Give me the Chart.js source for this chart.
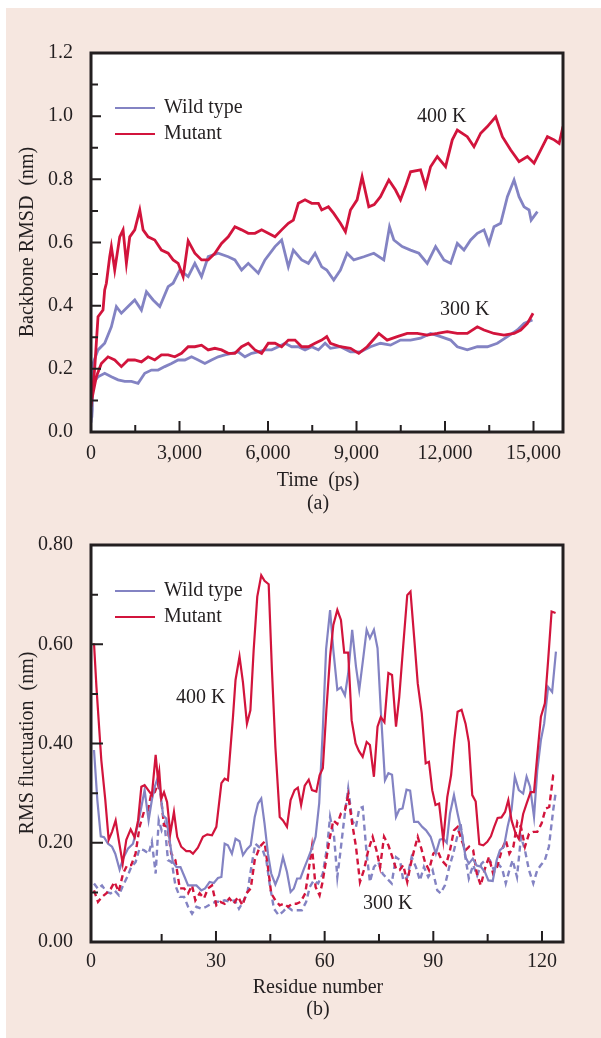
<!DOCTYPE html>
<html lang="en">
<head>
  <meta charset="UTF-8">
  <title>Backbone RMSD and RMS fluctuation</title>
  <script src="https://cdn.jsdelivr.net/npm/chart.js"></script>
  <style>
    body {
      margin: 0;
      background: #fff;
      width: 601px;
      height: 1038px;
      position: relative;
      overflow: hidden;
    }
    #panel {
      position: absolute;
      left: 6px; top: 8px; right: 0; bottom: 0;
      background: #f6e7e0;
    }
    canvas { position: absolute; left: 0; }
    #rmsd { top: 0; }
    #rmsf { top: 520px; }
  </style>
</head>
<body>
<div id="panel"></div>
<canvas id="rmsd" width="601" height="520" style="width:601px;height:520px"></canvas>
<canvas id="rmsf" width="601" height="518" style="width:601px;height:518px"></canvas>

<script>
  // (a) backbone RMSD vs time
  const wt400Time = [0, 40, 68, 238, 464, 690, 860, 1030, 1256, 1483, 1709, 1879, 2105, 2332, 2615, 2784, 3011, 3294, 3520, 3747, 3973, 4312, 4652, 4878, 5105, 5331, 5671, 5897, 6237, 6463, 6689, 6859, 7142, 7369, 7595, 7821, 7991, 8228, 8455, 8681, 8908, 9247, 9587, 9926, 10119, 10266, 10549, 10832, 11115, 11398, 11681, 11964, 12190, 12417, 12643, 12870, 13096, 13322, 13491, 13661, 13888, 14115, 14341, 14510, 14680, 14850, 14920, 15133];
  const wt400Rmsd = [0.03, 0.07, 0.217, 0.26, 0.281, 0.333, 0.397, 0.376, 0.397, 0.418, 0.386, 0.444, 0.418, 0.397, 0.46, 0.471, 0.513, 0.492, 0.534, 0.492, 0.555, 0.566, 0.555, 0.545, 0.513, 0.534, 0.503, 0.545, 0.587, 0.608, 0.523, 0.576, 0.545, 0.534, 0.566, 0.523, 0.513, 0.481, 0.513, 0.566, 0.545, 0.555, 0.566, 0.545, 0.65, 0.608, 0.587, 0.576, 0.566, 0.534, 0.587, 0.545, 0.534, 0.597, 0.576, 0.608, 0.629, 0.64, 0.597, 0.65, 0.661, 0.745, 0.798, 0.745, 0.713, 0.703, 0.671, 0.698];

  const mu400Time = [0, 124, 238, 407, 464, 521, 634, 690, 804, 974, 1087, 1200, 1313, 1483, 1653, 1766, 1936, 2162, 2388, 2615, 2784, 2954, 3124, 3294, 3520, 3747, 3973, 4199, 4425, 4652, 4878, 5105, 5331, 5558, 5784, 6010, 6237, 6463, 6689, 6859, 7029, 7255, 7482, 7708, 7821, 8048, 8228, 8455, 8625, 8795, 9020, 9190, 9417, 9600, 9813, 10096, 10323, 10492, 10660, 10832, 11171, 11341, 11511, 11738, 12020, 12247, 12417, 12756, 12983, 13209, 13436, 13718, 13945, 14228, 14510, 14793, 15020, 15246, 15473, 15700, 15870, 16000];
  const mu400Rmsd = [0.08, 0.2, 0.365, 0.386, 0.45, 0.471, 0.555, 0.587, 0.513, 0.618, 0.64, 0.534, 0.618, 0.64, 0.703, 0.64, 0.618, 0.608, 0.576, 0.566, 0.545, 0.534, 0.492, 0.605, 0.566, 0.545, 0.545, 0.566, 0.597, 0.618, 0.65, 0.64, 0.629, 0.629, 0.64, 0.629, 0.618, 0.64, 0.661, 0.671, 0.724, 0.735, 0.724, 0.724, 0.703, 0.713, 0.692, 0.661, 0.634, 0.703, 0.735, 0.808, 0.713, 0.72, 0.745, 0.798, 0.766, 0.735, 0.777, 0.824, 0.83, 0.777, 0.84, 0.872, 0.84, 0.925, 0.956, 0.935, 0.903, 0.946, 0.967, 0.998, 0.935, 0.893, 0.856, 0.872, 0.851, 0.893, 0.935, 0.925, 0.914, 0.967];

  const wt300Time = [0, 30, 68, 238, 464, 690, 917, 1143, 1370, 1596, 1822, 2049, 2275, 2501, 2728, 2954, 3181, 3407, 3633, 3860, 4086, 4312, 4539, 4765, 4991, 5218, 5444, 5671, 5897, 6124, 6350, 6576, 6803, 7029, 7255, 7482, 7708, 7935, 8115, 8455, 8795, 9134, 9474, 9813, 10153, 10492, 10832, 11171, 11511, 11851, 12190, 12417, 12756, 13096, 13436, 13775, 14115, 14454, 14680, 14964];
  const wt300Rmsd = [0.05, 0.12, 0.154, 0.175, 0.186, 0.175, 0.165, 0.16, 0.16, 0.154, 0.186, 0.196, 0.196, 0.207, 0.217, 0.228, 0.228, 0.238, 0.228, 0.217, 0.228, 0.238, 0.244, 0.249, 0.254, 0.238, 0.249, 0.254, 0.26, 0.26, 0.27, 0.281, 0.27, 0.27, 0.26, 0.27, 0.26, 0.281, 0.265, 0.27, 0.254, 0.254, 0.27, 0.281, 0.275, 0.291, 0.291, 0.297, 0.312, 0.302, 0.291, 0.27, 0.26, 0.27, 0.27, 0.281, 0.302, 0.323, 0.344, 0.355];

  const mu300Time = [0, 181, 351, 577, 804, 1030, 1256, 1483, 1709, 1936, 2162, 2388, 2615, 2841, 3067, 3294, 3520, 3747, 3973, 4199, 4425, 4652, 4878, 5105, 5331, 5558, 5784, 6010, 6237, 6463, 6689, 6916, 7142, 7369, 7595, 7821, 7991, 8115, 8455, 8795, 9077, 9361, 9756, 10040, 10380, 10719, 11059, 11398, 11738, 12077, 12417, 12756, 13096, 13322, 13661, 14000, 14341, 14567, 14793, 14985];
  const mu300Rmsd = [0.09, 0.175, 0.217, 0.238, 0.228, 0.207, 0.228, 0.228, 0.222, 0.238, 0.228, 0.244, 0.244, 0.238, 0.249, 0.27, 0.27, 0.275, 0.26, 0.265, 0.26, 0.249, 0.249, 0.27, 0.281, 0.26, 0.249, 0.281, 0.281, 0.27, 0.291, 0.291, 0.27, 0.27, 0.281, 0.291, 0.302, 0.281, 0.27, 0.265, 0.249, 0.27, 0.312, 0.291, 0.302, 0.312, 0.312, 0.307, 0.312, 0.318, 0.312, 0.312, 0.333, 0.323, 0.312, 0.307, 0.312, 0.323, 0.344, 0.376];

  // (b) RMS fluctuation per residue
  const mu400Res = [-3.67, -3.0, -1.65, -0.55, 0.38, 1.3, 2.3, 3.15, 4.25, 5.25, 6.45, 7.55, 8.5, 9.4, 10.3, 11.3, 12.3, 13.35, 14.0, 14.35, 14.9, 15.65, 16.5, 17.4, 18.4, 19.3, 20.4, 21.8, 22.8, 23.65, 25.0, 26.4, 27.6, 28.9, 30.1, 31.5, 32.4, 33.3, 34.7, 35.4, 36.5, 37.45, 38.55, 39.5, 40.4, 41.4, 42.5, 43.4, 44.55, 45.45, 46.4, 47.6, 48.5, 49.6, 50.6, 51.7, 52.6, 53.5, 54.5, 55.6, 56.5, 57.7, 58.6, 59.5, 60.5, 61.5, 62.4, 63.5, 64.5, 65.4, 66.5, 67.45, 68.55, 69.45, 70.5, 71.6, 72.5, 73.6, 74.6, 75.5, 76.5, 77.6, 78.6, 79.7, 80.6, 81.7, 82.8, 83.7, 84.7, 85.7, 86.8, 87.9, 88.8, 89.7, 90.6, 91.6, 92.75, 93.85, 94.9, 95.8, 96.7, 97.8, 98.9, 99.8, 100.75, 101.7, 102.7, 103.8, 104.9, 105.9, 106.8, 107.75, 108.8, 109.8, 110.7, 111.6, 112.7, 113.6, 114.8, 115.75, 116.85, 117.8, 118.7, 119.7, 120.8, 121.7, 122.65, 123.75];
  const mu400Rmsf = [0.602, 0.514, 0.366, 0.286, 0.206, 0.222, 0.245, 0.206, 0.158, 0.206, 0.227, 0.211, 0.245, 0.313, 0.316, 0.306, 0.296, 0.377, 0.326, 0.343, 0.289, 0.302, 0.282, 0.219, 0.262, 0.212, 0.192, 0.183, 0.183, 0.178, 0.19, 0.212, 0.217, 0.215, 0.232, 0.32, 0.329, 0.326, 0.454, 0.528, 0.575, 0.523, 0.44, 0.467, 0.588, 0.696, 0.739, 0.728, 0.721, 0.548, 0.393, 0.252, 0.245, 0.232, 0.286, 0.306, 0.311, 0.276, 0.315, 0.327, 0.306, 0.303, 0.336, 0.35, 0.47, 0.575, 0.639, 0.669, 0.649, 0.583, 0.583, 0.447, 0.4, 0.385, 0.373, 0.403, 0.397, 0.333, 0.434, 0.453, 0.443, 0.542, 0.538, 0.434, 0.494, 0.598, 0.699, 0.706, 0.615, 0.521, 0.461, 0.36, 0.363, 0.306, 0.276, 0.279, 0.205, 0.292, 0.336, 0.407, 0.464, 0.468, 0.44, 0.403, 0.296, 0.283, 0.197, 0.195, 0.202, 0.213, 0.232, 0.25, 0.251, 0.262, 0.286, 0.245, 0.219, 0.208, 0.258, 0.279, 0.302, 0.302, 0.376, 0.454, 0.481, 0.568, 0.666, 0.663];

  const wt400Res = [-3.67, -2.75, -1.8, -0.9, 0.2, 1.3, 2.2, 3.4, 4.35, 5.7, 7.1, 8.5, 9.4, 10.3, 11.4, 12.3, 13.1, 14.0, 14.7, 15.4, 16.3, 17.2, 18.1, 19.1, 20.2, 21.35, 22.3, 23.3, 24.6, 25.95, 27.0, 28.25, 29.4, 30.55, 31.5, 32.4, 33.3, 34.4, 35.4, 36.5, 37.45, 38.55, 39.6, 40.7, 41.6, 42.5, 43.4, 44.35, 45.25, 46.4, 47.4, 48.5, 49.6, 50.6, 51.5, 52.4, 53.3, 54.3, 55.4, 56.3, 57.5, 58.5, 59.5, 60.4, 61.5, 62.4, 63.5, 64.5, 65.6, 66.5, 67.6, 68.65, 69.55, 70.7, 71.6, 72.5, 73.6, 74.6, 75.5, 76.65, 77.6, 78.6, 79.7, 80.6, 81.5, 82.6, 83.6, 84.7, 85.8, 86.95, 88.0, 89.25, 90.7, 91.8, 92.8, 93.7, 94.6, 95.7, 96.7, 97.8, 98.9, 99.8, 100.9, 102.0, 103.1, 104.25, 105.2, 106.4, 107.5, 108.4, 109.5, 110.5, 111.6, 112.5, 113.6, 114.8, 115.75, 116.7, 117.8, 118.7, 119.7, 120.6, 121.7, 122.8, 123.85];
  const wt400Rmsf = [0.387, 0.286, 0.213, 0.211, 0.198, 0.192, 0.178, 0.146, 0.168, 0.188, 0.198, 0.239, 0.272, 0.306, 0.245, 0.286, 0.313, 0.333, 0.299, 0.255, 0.249, 0.205, 0.161, 0.151, 0.151, 0.131, 0.114, 0.114, 0.114, 0.104, 0.108, 0.121, 0.119, 0.129, 0.131, 0.198, 0.195, 0.178, 0.208, 0.203, 0.175, 0.187, 0.195, 0.252, 0.279, 0.289, 0.239, 0.178, 0.138, 0.116, 0.134, 0.171, 0.141, 0.101, 0.108, 0.128, 0.128, 0.148, 0.168, 0.185, 0.212, 0.28, 0.43, 0.59, 0.669, 0.588, 0.508, 0.513, 0.497, 0.541, 0.629, 0.555, 0.508, 0.575, 0.629, 0.612, 0.629, 0.592, 0.467, 0.326, 0.34, 0.337, 0.252, 0.267, 0.269, 0.307, 0.305, 0.242, 0.242, 0.232, 0.225, 0.212, 0.178, 0.206, 0.208, 0.2, 0.259, 0.296, 0.259, 0.222, 0.171, 0.158, 0.168, 0.154, 0.152, 0.141, 0.124, 0.123, 0.165, 0.185, 0.192, 0.232, 0.267, 0.333, 0.306, 0.299, 0.333, 0.313, 0.252, 0.346, 0.407, 0.44, 0.514, 0.504, 0.585];

  const mu300Res = [-3.67, -2.57, -1.46, -0.28, 0.93, 2.0, 3.15, 4.35, 5.5, 6.6, 7.8, 8.9, 10.1, 11.2, 12.15, 13.1, 14.0, 14.7, 15.65, 16.6, 17.65, 18.8, 20.0, 21.2, 22.3, 23.4, 24.3, 25.5, 26.7, 27.8, 28.9, 30.1, 31.2, 32.4, 33.7, 34.9, 36.1, 37.3, 38.4, 39.6, 40.7, 42.1, 43.4, 44.35, 45.25, 46.4, 47.6, 48.8, 49.9, 51.0, 52.2, 53.4, 54.65, 55.6, 56.5, 57.5, 58.6, 59.4, 60.1, 61.3, 62.4, 63.5, 64.5, 65.6, 66.5, 67.6, 68.65, 69.75, 70.85, 72.05, 73.25, 74.3, 75.3, 76.4, 77.6, 78.7, 79.7, 80.7, 81.7, 82.8, 83.8, 84.7, 85.7, 86.7, 87.7, 88.8, 90.0, 91.1, 92.3, 93.5, 94.6, 95.7, 96.7, 97.8, 98.9, 99.9, 101.0, 102.0, 103.1, 104.25, 105.35, 106.5, 107.6, 108.9, 110.0, 111.0, 112.1, 113.2, 114.2, 115.3, 116.4, 117.6, 118.7, 119.9, 121.0, 122.0, 123.1, 123.75];
  const mu300Rmsf = [0.104, 0.081, 0.091, 0.098, 0.107, 0.121, 0.101, 0.138, 0.155, 0.155, 0.178, 0.232, 0.262, 0.265, 0.299, 0.302, 0.319, 0.299, 0.235, 0.232, 0.178, 0.165, 0.108, 0.108, 0.098, 0.114, 0.084, 0.098, 0.088, 0.108, 0.114, 0.074, 0.081, 0.077, 0.088, 0.077, 0.091, 0.074, 0.098, 0.108, 0.165, 0.192, 0.202, 0.151, 0.098, 0.084, 0.074, 0.077, 0.071, 0.077, 0.077, 0.081, 0.098, 0.145, 0.192, 0.111, 0.094, 0.12, 0.151, 0.205, 0.245, 0.238, 0.259, 0.266, 0.296, 0.239, 0.192, 0.121, 0.145, 0.185, 0.212, 0.185, 0.151, 0.212, 0.195, 0.171, 0.148, 0.145, 0.155, 0.121, 0.158, 0.185, 0.212, 0.188, 0.161, 0.145, 0.178, 0.185, 0.165, 0.155, 0.185, 0.225, 0.232, 0.205, 0.185, 0.192, 0.185, 0.138, 0.114, 0.148, 0.171, 0.138, 0.151, 0.185, 0.205, 0.178, 0.192, 0.242, 0.232, 0.192, 0.218, 0.222, 0.222, 0.239, 0.269, 0.272, 0.336, 0.339];

  const wt300Res = [-3.67, -2.57, -1.46, -0.28, 0.93, 2.0, 3.2, 4.35, 5.5, 6.6, 7.8, 8.9, 10.1, 11.4, 12.3, 13.35, 14.2, 15.0, 15.8, 16.75, 17.8, 18.8, 20.0, 21.2, 22.3, 23.4, 24.6, 25.95, 27.3, 28.7, 30.0, 31.2, 32.4, 33.8, 35.2, 36.35, 37.5, 38.65, 39.75, 40.85, 41.8, 42.9, 43.9, 44.8, 46.0, 47.3, 48.5, 49.7, 51.0, 52.4, 53.7, 54.9, 55.9, 57.0, 58.2, 59.5, 60.7, 61.5, 62.6, 63.5, 64.4, 65.35, 66.5, 67.6, 68.65, 69.55, 70.5, 71.6, 72.5, 73.6, 74.8, 76.0, 77.2, 78.5, 79.7, 80.8, 81.7, 82.8, 84.0, 85.2, 86.3, 87.4, 88.6, 89.8, 91.1, 92.0, 93.2, 94.4, 95.5, 96.6, 97.5, 98.7, 99.8, 101.0, 102.1, 103.3, 104.4, 105.6, 106.7, 107.8, 109.0, 110.0, 111.0, 111.9, 113.1, 114.2, 115.3, 116.4, 117.6, 118.7, 119.7, 120.8, 121.9, 123.1, 123.75];
  const wt300Rmsf = [0.118, 0.107, 0.114, 0.101, 0.098, 0.104, 0.094, 0.114, 0.131, 0.151, 0.161, 0.188, 0.185, 0.178, 0.202, 0.138, 0.245, 0.225, 0.239, 0.165, 0.161, 0.114, 0.091, 0.091, 0.071, 0.057, 0.071, 0.067, 0.071, 0.077, 0.081, 0.081, 0.084, 0.081, 0.084, 0.067, 0.081, 0.098, 0.151, 0.198, 0.192, 0.185, 0.165, 0.118, 0.067, 0.054, 0.061, 0.071, 0.064, 0.064, 0.064, 0.081, 0.111, 0.124, 0.118, 0.138, 0.192, 0.252, 0.212, 0.131, 0.185, 0.245, 0.309, 0.245, 0.232, 0.269, 0.272, 0.178, 0.121, 0.151, 0.161, 0.138, 0.128, 0.118, 0.171, 0.165, 0.124, 0.131, 0.171, 0.151, 0.124, 0.151, 0.131, 0.145, 0.104, 0.098, 0.114, 0.151, 0.178, 0.212, 0.239, 0.178, 0.128, 0.155, 0.134, 0.158, 0.165, 0.165, 0.145, 0.158, 0.148, 0.118, 0.145, 0.165, 0.131, 0.212, 0.185, 0.145, 0.118, 0.145, 0.155, 0.165, 0.192, 0.266, 0.299];

  // ticks
  const timeTicks = [0, 3000, 6000, 9000, 12000, 15000];
  const timeMinor = [1500, 4500, 7500, 10500, 13500];
  const rmsdTicks = [0, 0.2, 0.4, 0.6, 0.8, 1.0, 1.2];
  const rmsdMinor = [0.1, 0.3, 0.5, 0.7, 0.9, 1.1];
  const residueTicks = [-4.5, 30, 60, 90, 120];
  const residueTickLabels = ['0', '30', '60', '90', '120'];
  const residueMinor = [15, 45, 75, 105];
  const rmsfTicks = [0, 0.2, 0.4, 0.6, 0.8];
  const rmsfMinor = [0.1, 0.3, 0.5, 0.7];

  const INK = '#231f20';
  const RED = '#d2143c';
  const BLUE = '#8383c3';
  const FONT = '"Liberation Serif", "Times New Roman", serif';

  function pts(xs, ys) {
    const n = Math.min(xs.length, ys.length);
    const out = [];
    for (let i = 0; i < n; i++) out.push({ x: xs[i], y: ys[i] });
    return out;
  }

  // white plot area, inward ticks, frame and all the loose text
  const framePlugin = {
    id: 'frame',
    beforeDraw(chart) {
      const { ctx, chartArea: a } = chart;
      ctx.save();
      ctx.fillStyle = '#fff';
      ctx.fillRect(a.left, a.top, a.right - a.left, a.bottom - a.top);
      ctx.restore();
    },
    afterDraw(chart, args, o) {
      const { ctx, chartArea: a, scales } = chart;
      const sx = scales.x, sy = scales.y;
      ctx.save();
      ctx.strokeStyle = INK;
      ctx.lineWidth = 2;
      ctx.beginPath();
      o.xMajor.forEach(v => { const p = sx.getPixelForValue(v); ctx.moveTo(p, a.bottom); ctx.lineTo(p, a.bottom - o.xLen[0]); });
      o.xMinor.forEach(v => { const p = sx.getPixelForValue(v); ctx.moveTo(p, a.bottom); ctx.lineTo(p, a.bottom - o.xLen[1]); });
      o.yMajor.forEach(v => { const p = sy.getPixelForValue(v); ctx.moveTo(a.left, p); ctx.lineTo(a.left + o.yLen[0], p); });
      o.yMinor.forEach(v => { const p = sy.getPixelForValue(v); ctx.moveTo(a.left, p); ctx.lineTo(a.left + o.yLen[1], p); });
      ctx.stroke();
      ctx.lineWidth = 3;
      ctx.strokeRect(a.left, a.top, a.right - a.left, a.bottom - a.top);

      ctx.fillStyle = INK;
      ctx.font = '20px ' + FONT;
      ctx.textAlign = 'center';
      ctx.textBaseline = 'alphabetic';
      ctx.fillText(o.xTitle, o.xTitleAt[0], o.xTitleAt[1]);
      ctx.fillText(o.panel, o.panelAt[0], o.panelAt[1]);

      ctx.save();
      ctx.translate(o.yTitleAt[0], o.yTitleAt[1]);
      ctx.rotate(-Math.PI / 2);
      ctx.textBaseline = 'middle';
      ctx.fillText(o.yTitle, 0, 0);
      ctx.restore();

      ctx.textAlign = 'left';
      ctx.textBaseline = 'middle';
      o.notes.forEach(n => ctx.fillText(n.text, n.x, n.y));

      o.legend.forEach(l => {
        ctx.strokeStyle = l.color;
        ctx.lineWidth = 2;
        ctx.beginPath();
        ctx.moveTo(115, l.y);
        ctx.lineTo(155, l.y);
        ctx.stroke();
        ctx.fillText(l.text, 164, l.y);
      });
      ctx.restore();
    }
  };

  const tickFont = { family: FONT, size: 20 };

  new Chart(document.getElementById('rmsd'), {
    type: 'line',
    data: {
      datasets: [
        { label: 'Mutant 400 K', data: pts(mu400Time, mu400Rmsd), borderColor: RED, borderWidth: 2.8 },
        { label: 'Mutant 300 K', data: pts(mu300Time, mu300Rmsd), borderColor: RED, borderWidth: 2.8 },
        { label: 'Wild type 400 K', data: pts(wt400Time, wt400Rmsd), borderColor: BLUE, borderWidth: 2.8 },
        { label: 'Wild type 300 K', data: pts(wt300Time, wt300Rmsd), borderColor: BLUE, borderWidth: 2.8 }
      ]
    },
    options: {
      responsive: false,
      animation: false,
      devicePixelRatio: 1,
      parsing: false,
      elements: { point: { radius: 0 }, line: { tension: 0, fill: false } },
      layout: { padding: { left: 0, right: 38, top: 53, bottom: 0 } },
      scales: {
        x: {
          type: 'linear', min: 0, max: 16000,
          grid: { display: false }, border: { display: false },
          afterFit: s => { s.height = 88; },
          afterBuildTicks: s => { s.ticks = timeTicks.map(v => ({ value: v })); },
          ticks: { autoSkip: false, maxRotation: 0, padding: 2, color: INK, font: tickFont,
                   callback: v => v.toLocaleString('en-US') }
        },
        y: {
          type: 'linear', min: 0, max: 1.2,
          grid: { display: false }, border: { display: false },
          afterFit: s => { s.width = 91; },
          afterBuildTicks: s => { s.ticks = rmsdTicks.map(v => ({ value: v })); },
          ticks: { padding: 10, color: INK, font: tickFont, callback: v => v.toFixed(1) }
        }
      },
      plugins: {
        legend: { display: false },
        tooltip: { enabled: false },
        frame: {
          xMajor: timeTicks, xMinor: timeMinor, yMajor: rmsdTicks, yMinor: rmsdMinor,
          xLen: [11, 7], yLen: [10, 7],
          xTitle: 'Time  (ps)', xTitleAt: [318, 486],
          panel: '(a)', panelAt: [318, 509],
          yTitle: 'Backbone RMSD  (nm)', yTitleAt: [28, 242],
          notes: [{ text: '400 K', x: 417, y: 117 }, { text: '300 K', x: 440, y: 310 }],
          legend: [{ text: 'Wild type', color: BLUE, y: 108 }, { text: 'Mutant', color: RED, y: 134 }]
        }
      }
    },
    plugins: [framePlugin]
  });

  new Chart(document.getElementById('rmsf'), {
    type: 'line',
    data: {
      datasets: [
        { label: 'Mutant 400 K', data: pts(mu400Res, mu400Rmsf), borderColor: RED, borderWidth: 2.2 },
        { label: 'Wild type 400 K', data: pts(wt400Res, wt400Rmsf), borderColor: BLUE, borderWidth: 2.2 },
        { label: 'Mutant 300 K', data: pts(mu300Res, mu300Rmsf), borderColor: RED, borderWidth: 2.4, borderDash: [6, 4] },
        { label: 'Wild type 300 K', data: pts(wt300Res, wt300Rmsf), borderColor: BLUE, borderWidth: 2.4, borderDash: [6, 4] }
      ]
    },
    options: {
      responsive: false,
      animation: false,
      devicePixelRatio: 1,
      parsing: false,
      elements: { point: { radius: 0 }, line: { tension: 0, fill: false } },
      layout: { padding: { left: 0, right: 38, top: 25, bottom: 0 } },
      scales: {
        x: {
          type: 'linear', min: -4.5, max: 125.8,
          grid: { display: false }, border: { display: false },
          afterFit: s => { s.height = 96; },
          afterBuildTicks: s => { s.ticks = residueTicks.map(v => ({ value: v })); },
          ticks: { autoSkip: false, maxRotation: 0, padding: 0, color: INK, font: tickFont,
                   callback: (v, i) => residueTickLabels[i] }
        },
        y: {
          type: 'linear', min: 0, max: 0.8,
          grid: { display: false }, border: { display: false },
          afterFit: s => { s.width = 91; },
          afterBuildTicks: s => { s.ticks = rmsfTicks.map(v => ({ value: v })); },
          ticks: { padding: 10, color: INK, font: tickFont, callback: v => v.toFixed(2) }
        }
      },
      plugins: {
        legend: { display: false },
        tooltip: { enabled: false },
        frame: {
          xMajor: residueTicks, xMinor: residueMinor, yMajor: rmsfTicks, yMinor: rmsfMinor,
          xLen: [11, 8], yLen: [12, 7],
          xTitle: 'Residue number', xTitleAt: [318, 473],
          panel: '(b)', panelAt: [318, 495],
          yTitle: 'RMS fluctuation  (nm)', yTitleAt: [28, 223],
          notes: [{ text: '400 K', x: 176, y: 178 }, { text: '300 K', x: 363, y: 384 }],
          legend: [{ text: 'Wild type', color: BLUE, y: 71 }, { text: 'Mutant', color: RED, y: 97 }]
        }
      }
    },
    plugins: [framePlugin]
  });
</script>

</body>
</html>
